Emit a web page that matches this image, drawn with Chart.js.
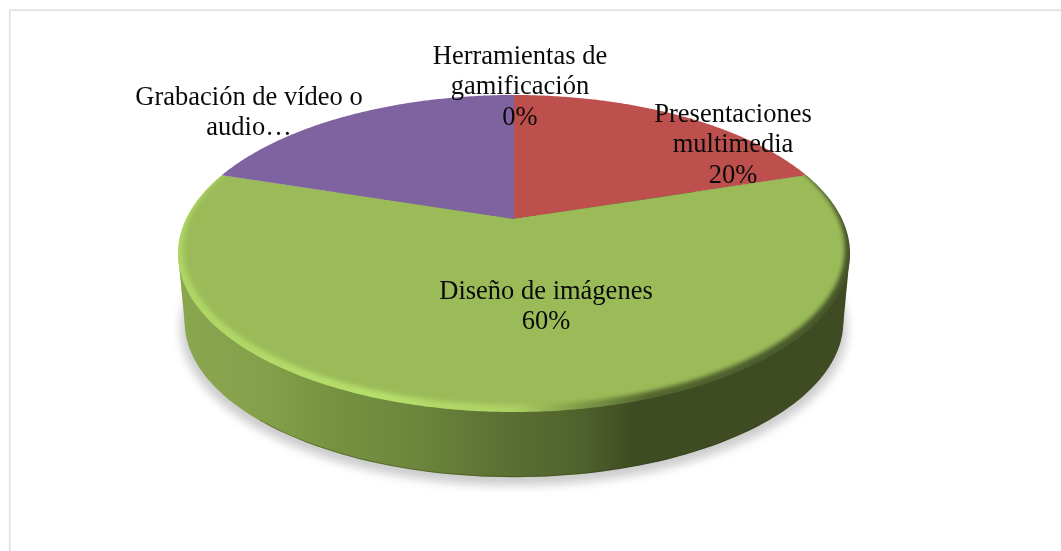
<!DOCTYPE html>
<html>
<head>
<meta charset="utf-8">
<script src="https://cdn.jsdelivr.net/npm/chart.js@4"></script>
<style>html,body{margin:0;background:#fff}canvas{display:block}</style>
</head>
<body>
<canvas id="c" width="1061" height="551"></canvas>
<script>
const categories = ['Presentaciones multimedia', 'Diseño de imágenes', 'Grabación de vídeo o audio', 'Herramientas de gamificación'];
const values = [20, 60, 20, 0];
const sliceColors = ['#bd504d', '#9bbb59', '#7f62a0', '#4bacc6'];
const labelLines = [
  ['Presentaciones', 'multimedia', '20%'],
  ['Diseño de imágenes', '60%'],
  ['Grabación de vídeo o', 'audio…'],
  ['Herramientas de', 'gamificación', '0%']
];

// Perspective of the disc plane and where each label block sits
const view = {apexX: 514, apexY: 219, a: 151, c: 0.2177, d: 328};
const depth = {shift: 69, scale: 0.98};
const labelAnchors = [[733, 115], [546, 292], [249, 98], [520, 57]];
const labelFont = '26.5px "Liberation Serif"';
const lineStep = 30.5;

function project(ux, uy, s, dy) {
  const w = 1 + view.c * uy;
  return [view.apexX + s * view.d * ux / w, view.apexY + dy - s * view.a * uy / w];
}
function arcPoint(angle, s, dy) { return project(Math.cos(angle), -Math.sin(angle), s, dy); }
function discPath(ctx, s, dy) {
  ctx.beginPath();
  for (let i = 0; i <= 240; i++) {
    const p = arcPoint(i / 240 * Math.PI * 2, s, dy);
    i ? ctx.lineTo(p[0], p[1]) : ctx.moveTo(p[0], p[1]);
  }
  ctx.closePath();
}
function slicePath(ctx, start, end) {
  const n = Math.max(2, Math.ceil((end - start) / 0.01));
  const o = project(0, 0, 1, 0);
  ctx.beginPath();
  ctx.moveTo(o[0], o[1]);
  for (let i = 0; i <= n; i++) {
    const p = arcPoint(start + (end - start) * i / n, 1, 0);
    ctx.lineTo(p[0], p[1]);
  }
  ctx.closePath();
}
function sideGradient(ctx) {
  const g = ctx.createLinearGradient(179, 0, 849, 0);
  [[0, '#8aa64f'], [0.13, '#84a04a'], [0.25, '#74903f'], [0.36, '#6b863c'],
   [0.47, '#5d7234'], [0.6, '#4f622d'], [0.68, '#3f4b22'], [1, '#3f4b22']]
    .forEach(s => g.addColorStop(s[0], s[1]));
  return g;
}
function rimGradient(ctx) {
  const g = ctx.createLinearGradient(179, 0, 849, 0);
  [[0, '#aed564'], [0.3, '#b6e06c'], [0.5, '#aed064'], [0.6, '#7f9a48'], [0.7, '#55672f'], [1, '#46552a']]
    .forEach(s => g.addColorStop(s[0], s[1]));
  return g;
}

const pie3d = {
  id: 'pie3d',
  beforeDraw(chart) {
    const ctx = chart.ctx;
    ctx.save();
    ctx.fillStyle = '#fff';
    ctx.fillRect(0, 0, chart.width, chart.height);
    ctx.strokeStyle = '#dedede';
    ctx.lineWidth = 1.5;
    ctx.strokeRect(9.75, 10.25, chart.width + 20, chart.height + 20);
    ctx.restore();
  },
  beforeDatasetsDraw(chart) {
    const ctx = chart.ctx;
    const arcs = chart.getDatasetMeta(0).data;
    // soft shadow
    ctx.save();
    ctx.filter = 'blur(5px)';
    ctx.fillStyle = 'rgba(0,0,0,0.2)';
    discPath(ctx, depth.scale + 0.012, depth.shift + 6);
    ctx.fill();
    ctx.restore();
    // wall
    ctx.save();
    ctx.fillStyle = sideGradient(ctx);
    discPath(ctx, depth.scale, depth.shift);
    ctx.fill();
    const lo = depth.scale * 328 * 1.0246, hi = 336;
    ctx.beginPath();
    ctx.moveTo(view.apexX - hi, 254);
    ctx.lineTo(view.apexX + hi, 254);
    ctx.lineTo(view.apexX + lo, 323);
    ctx.lineTo(view.apexX - lo, 323);
    ctx.closePath();
    ctx.fill();
    // darker lower edge
    discPath(ctx, depth.scale, depth.shift);
    ctx.clip();
    ctx.beginPath();
    ctx.rect(0, 420, chart.width, chart.height);
    ctx.clip();
    discPath(ctx, depth.scale, depth.shift);
    ctx.strokeStyle = 'rgba(40,55,15,0.35)';
    ctx.lineWidth = 2;
    ctx.stroke();
    ctx.restore();
    // top face, slice by slice from the library's computed angles
    arcs.forEach((el, i) => {
      if (el.endAngle - el.startAngle <= 0) return;
      ctx.save();
      slicePath(ctx, el.startAngle, el.endAngle);
      ctx.clip();
      const facesViewer = el.startAngle < Math.PI / 2 && el.endAngle > Math.PI / 2;
      if (facesViewer) {
        ctx.fillStyle = rimGradient(ctx);
        ctx.fillRect(0, 0, chart.width, chart.height);
        ctx.filter = 'blur(2.2px)';
      }
      ctx.fillStyle = el.options.backgroundColor;
      if (facesViewer) {
        discPath(ctx, 0.984, -4);
        ctx.fill();
      } else {
        ctx.fillRect(0, 0, chart.width, chart.height);
      }
      ctx.restore();
    });
    return false;
  },
  afterDraw(chart) {
    const ctx = chart.ctx;
    ctx.save();
    ctx.font = labelFont;
    ctx.fillStyle = '#0a0a0a';
    ctx.textAlign = 'center';
    ctx.textBaseline = 'middle';
    labelLines.forEach((lines, i) => {
      lines.forEach((t, j) => ctx.fillText(t, labelAnchors[i][0], labelAnchors[i][1] + j * lineStep));
    });
    ctx.restore();
  }
};

new Chart(document.getElementById('c'), {
  type: 'pie',
  data: {labels: categories, datasets: [{data: values, backgroundColor: sliceColors, borderWidth: 0}]},
  options: {
    responsive: false,
    animation: false,
    plugins: {legend: {display: false}, tooltip: {enabled: false}}
  },
  plugins: [pie3d]
});
</script>
</body>
</html>
